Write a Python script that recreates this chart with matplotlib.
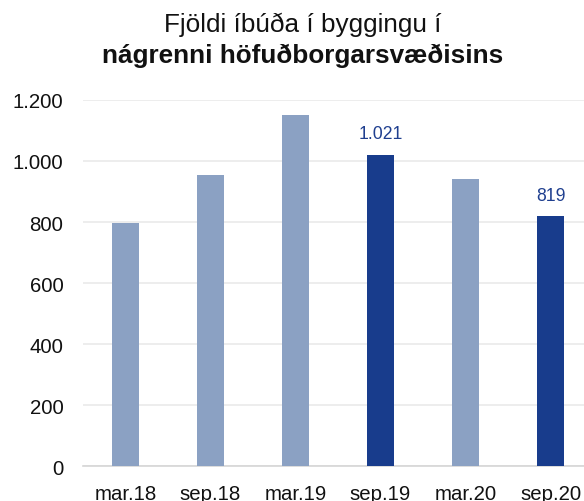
import matplotlib
matplotlib.use("Agg")
import matplotlib.pyplot as plt
from matplotlib.ticker import FuncFormatter

plt.rcParams['font.family'] = ['Liberation Sans', 'DejaVu Sans']

# Data
periods = ['mar.18', 'sep.18', 'mar.19', 'sep.19', 'mar.20', 'sep.20']
values = [797, 954, 1151, 1021, 941, 819]
highlight = [False, False, False, True, False, True]

light = '#8BA1C3'
dark = '#183C8C'


def dot_thousands(v):
    return f'{int(v):,}'.replace(',', '.')


fig = plt.figure(figsize=(5.84, 5.02), dpi=100)
ax = fig.add_axes([0.142, 0.069, 0.858, 0.730])

colors = [dark if h else light for h in highlight]
x = range(len(periods))
ax.bar(x, values, width=0.317, color=colors, zorder=3)

for i, (v, h) in enumerate(zip(values, highlight)):
    if h:
        ax.annotate(dot_thousands(v), (i, v), xytext=(0, 12),
                    textcoords='offset points', ha='center', va='baseline',
                    fontsize=12.7, color='#1F3F8F')

ax.set_ylim(0, 1200)
ax.set_xlim(-0.5, 5.394)
ax.set_yticks(range(0, 1201, 200))
ax.yaxis.set_major_formatter(FuncFormatter(lambda v, p: dot_thousands(v)))
ax.set_xticks(list(x))
ax.set_xticklabels(periods)

ax.grid(axis='y', color='#EAEAEA', linewidth=1.2, zorder=0)
for s in ['top', 'right', 'left']:
    ax.spines[s].set_visible(False)
ax.spines['bottom'].set_color('#D6D6D6')
ax.spines['bottom'].set_linewidth(1.2)
ax.tick_params(axis='both', length=0, labelsize=14.7, colors='#111111')
ax.tick_params(axis='y', pad=14)
ax.tick_params(axis='x', pad=12.5)

fig.text(0.519, 0.936, 'Fjöldi íbúða í byggingu í', ha='center', va='baseline',
         fontsize=18.8, color='#111111')
fig.text(0.519, 0.8745, 'nágrenni höfuðborgarsvæðisins', ha='center', va='baseline',
         fontsize=18.8, fontweight='bold', color='#111111')

fig.savefig('out.png', dpi=100)
